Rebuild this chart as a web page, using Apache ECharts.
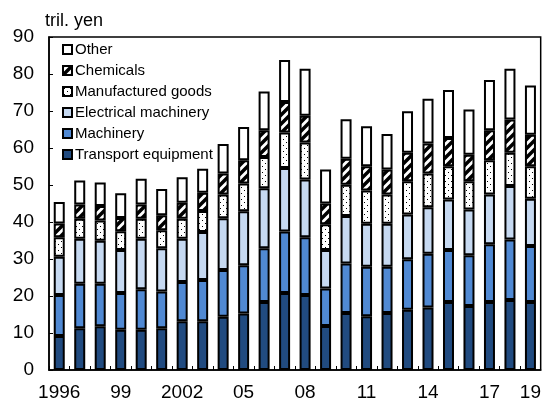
<!DOCTYPE html>
<html>
<head>
<meta charset="utf-8">
<script src="https://cdn.jsdelivr.net/npm/echarts@6/dist/echarts.min.js"></script>
<style>
    html, body { margin: 0; padding: 0; background: #fff; }
    #chart { width: 544px; height: 403px; }
</style>
</head>
<body>
<div id="chart"></div>
<script>
// 年份 + 横轴显示的标签
var years = ['1996', '1997', '1998', '1999', '2000', '2001', '2002', '2003', '2004', '2005', '2006', '2007',
    '2008', '2009', '2010', '2011', '2012', '2013', '2014', '2015', '2016', '2017', '2018', '2019'];
var tickLabels = ['1996', '', '', '99', '', '', '2002', '', '', '05', '', '', '08', '', '', '11', '', '', '14', '', '', '17', '', '19'];

// 各品类 (tril. yen)
var transport = [9.2, 11.3, 11.8, 10.9, 10.9, 11.3, 13.2, 13.2, 14.4, 15.3, 18.4, 20.8, 20.3, 11.9, 15.4, 14.5, 15.4, 16.3, 16.9, 18.4, 17.3, 18.4, 18.9, 18.4];
var machinery = [11.1, 12.0, 11.5, 9.9, 10.9, 9.9, 10.6, 11.1, 12.6, 13.0, 14.5, 16.6, 15.6, 10.1, 13.4, 13.4, 12.5, 13.6, 14.5, 14.0, 13.7, 15.6, 16.4, 15.1];
var electrical = [10.3, 12.2, 11.6, 11.6, 13.7, 11.7, 11.7, 13.0, 14.0, 14.6, 16.2, 17.2, 15.6, 10.4, 12.8, 11.6, 11.6, 12.1, 12.6, 13.7, 12.4, 13.4, 14.4, 12.8];
var manufactured = [5.3, 5.4, 5.5, 5.1, 5.4, 4.9, 5.4, 5.7, 6.4, 7.5, 8.5, 9.6, 10.0, 7.0, 8.5, 9.0, 7.9, 9.0, 9.1, 9.0, 7.6, 9.3, 9.0, 8.8];
var chemicals = [3.7, 3.8, 3.9, 3.6, 3.8, 4.0, 4.3, 4.9, 5.7, 6.3, 7.2, 8.2, 7.2, 5.6, 7.0, 6.6, 6.8, 7.7, 8.1, 7.6, 7.2, 8.1, 9.0, 8.5];
var other = [5.8, 6.5, 6.4, 6.7, 7.0, 7.1, 6.9, 6.5, 8.0, 9.0, 10.5, 11.4, 12.7, 9.2, 10.7, 10.8, 9.6, 11.2, 12.1, 13.0, 12.2, 13.6, 13.7, 13.3];

var font = 'Liberation Sans, Arial, sans-serif';

// 点状填充
function dotPattern() {
    var c = document.createElement('canvas');
    c.width = 6; c.height = 6;
    var ctx = c.getContext('2d');
    ctx.fillStyle = '#fff';
    ctx.fillRect(0, 0, 6, 6);
    ctx.fillStyle = '#000';
    ctx.fillRect(1, 1, 1, 1);
    ctx.fillRect(4, 4, 1, 1);
    return { image: c, repeat: 'repeat' };
}

// 斜线填充
function hatchPattern() {
    var c = document.createElement('canvas');
    c.width = 9; c.height = 9;
    var ctx = c.getContext('2d');
    ctx.fillStyle = '#fff';
    ctx.fillRect(0, 0, 9, 9);
    ctx.strokeStyle = '#000';
    ctx.lineWidth = 3.5;
    ctx.beginPath();
    ctx.moveTo(-1, 10); ctx.lineTo(10, -1);
    ctx.moveTo(-5, 5); ctx.lineTo(5, -5);
    ctx.moveTo(4, 14); ctx.lineTo(14, 4);
    ctx.stroke();
    return { image: c, repeat: 'repeat' };
}

var myChart = echarts.init(document.getElementById('chart'));

function bar(name, data, color) {
    return {
        name: name,
        type: 'bar',
        stack: 'total',
        data: data,
        barWidth: 11,
        itemStyle: { color: color, borderColor: '#000', borderWidth: 2 },
        emphasis: { disabled: true }
    };
}

var option = {
    animation: false,
    textStyle: { fontFamily: font },
    title: {
        text: 'tril. yen',
        left: 45,
        top: 12,
        padding: 0,
        textStyle: { fontSize: 18, fontWeight: 'normal', color: '#000', fontFamily: font }
    },
    legend: {
        orient: 'vertical',
        left: 57,
        top: 37,
        itemWidth: 9,
        itemHeight: 9,
        itemGap: 6,
        icon: 'rect',
        selectedMode: false,
        textStyle: { fontSize: 15, color: '#000', fontFamily: font, padding: [0, 0, 0, -2] },
        data: ['Other', 'Chemicals', 'Manufactured goods', 'Electrical machinery', 'Machinery', 'Transport equipment']
    },
    grid: {
        left: 49,
        right: 3,
        top: 37,
        bottom: 33,
        show: true,
        borderColor: '#000',
        borderWidth: 1.5
    },
    xAxis: {
        type: 'category',
        data: years,
        axisLine: { lineStyle: { color: '#000', width: 1.5 } },
        axisTick: { show: true, inside: true, length: 4, interval: 0, lineStyle: { color: '#000' } },
        axisLabel: {
            interval: 0,
            margin: 13,
            fontSize: 19,
            color: '#000',
            fontFamily: font,
            formatter: function (v, i) { return tickLabels[i]; }
        }
    },
    yAxis: {
        type: 'value',
        min: 0,
        max: 90,
        interval: 10,
        splitLine: { show: false },
        axisLine: { show: true, lineStyle: { color: '#000', width: 1.5 } },
        axisTick: { show: true, inside: true, length: 4, lineStyle: { color: '#000' } },
        axisLabel: { fontSize: 19, color: '#000', margin: 15, fontFamily: font }
    },
    series: [
        bar('Transport equipment', transport, '#214b80'),
        bar('Machinery', machinery, '#5089d3'),
        bar('Electrical machinery', electrical, '#c6d9f1'),
        bar('Manufactured goods', manufactured, dotPattern()),
        bar('Chemicals', chemicals, hatchPattern()),
        bar('Other', other, '#ffffff')
    ]
};

myChart.setOption(option);
</script>
</body>
</html>
